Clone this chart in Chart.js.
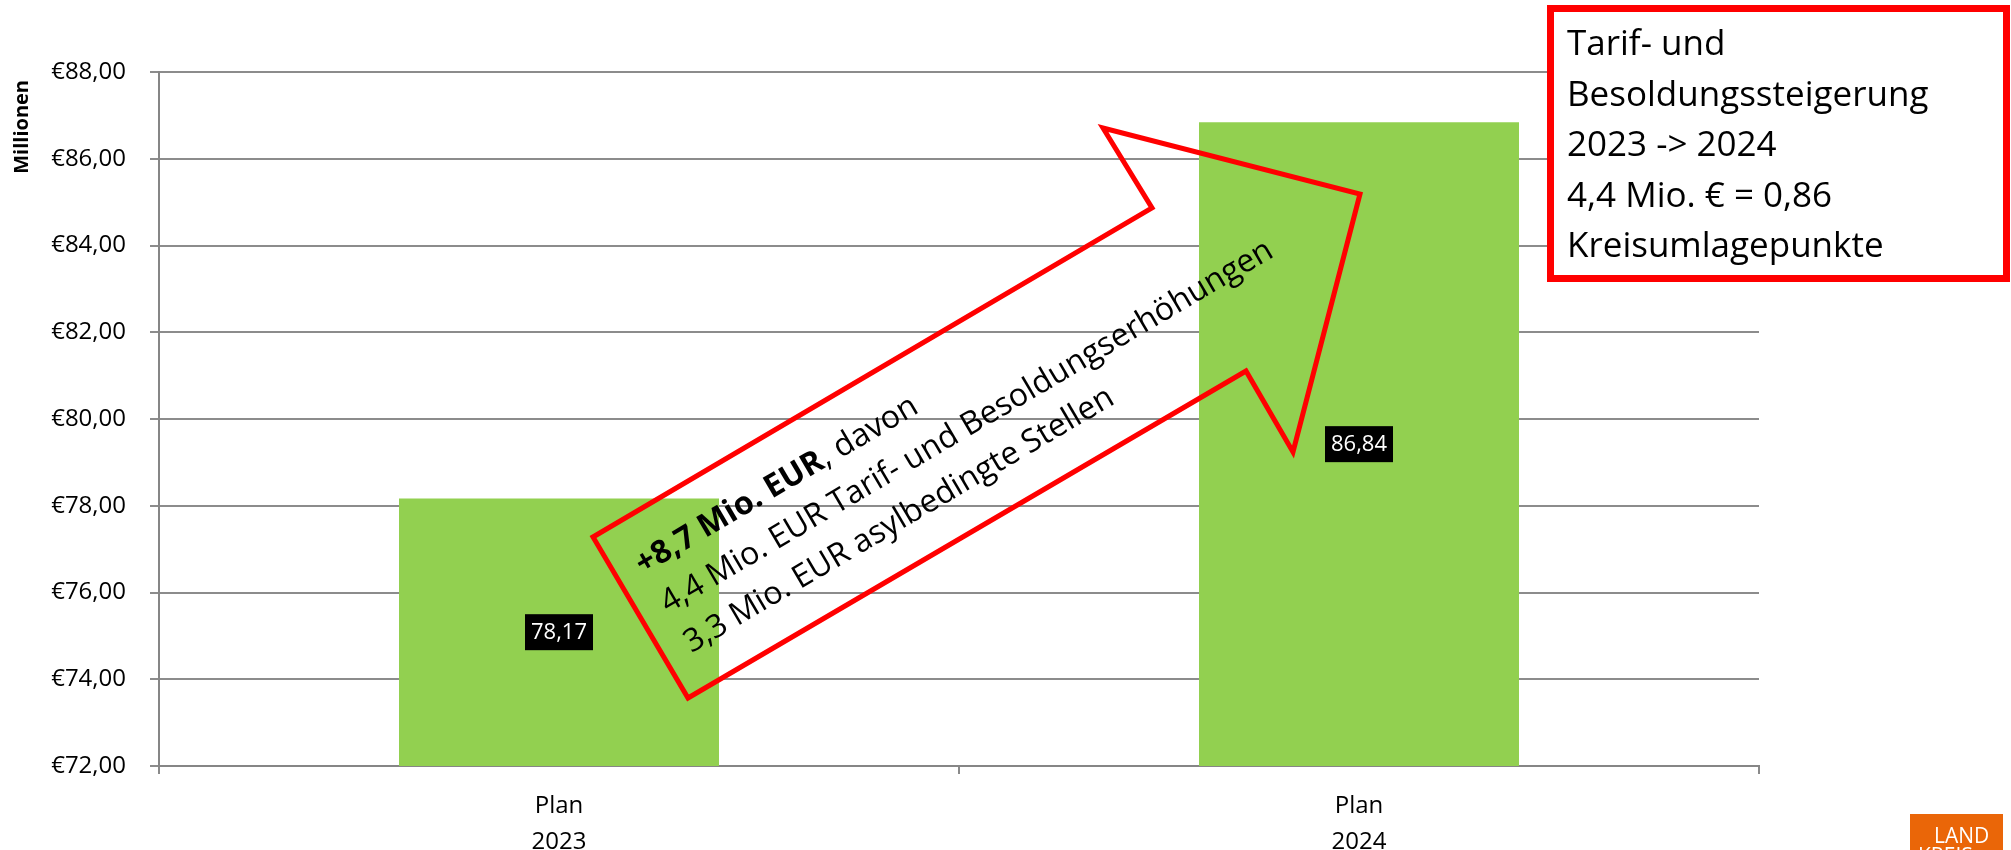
<!DOCTYPE html>
<html>
<head>
<meta charset="utf-8">
<style>
  html, body { margin: 0; padding: 0; background: #fff; }
  #chart { display: block; }
</style>
<script src="https://cdn.jsdelivr.net/npm/chart.js@4/dist/chart.umd.min.js"></script>
</head>
<body>
<canvas id="chart" width="2011" height="850"></canvas>
<script>
// Daten
const categories = [['Plan', '2023'], ['Plan', '2024']];
const values = [78.17, 86.84];
const yMin = 72;
const yMax = 88;
const yStep = 2;

// Beschriftungen
const axisTitle = 'Millionen';
const arrowBold = '+8,7 Mio. EUR';
const arrowRest = ', davon';
const arrowLines = [
  '4,4 Mio. EUR Tarif- und Besoldungserhöhungen',
  '3,3 Mio. EUR asylbedingte Stellen'
];
const boxLines = [
  'Tarif- und',
  'Besoldungssteigerung',
  '2023 -> 2024',
  '4,4 Mio. € = 0,86',
  'Kreisumlagepunkte'
];

const FONT = '"Open Sans", "Noto Sans", sans-serif';
const fmt = v => v.toFixed(2).replace('.', ',');

// Werte als schwarze Kästchen in der Mitte der Balken
function drawValueBoxes(chart, ctx) {
  const xs = chart.scales.x;
  const ys = chart.scales.y;
  ctx.save();
  ctx.font = '22px ' + FONT;
  ctx.textAlign = 'center';
  ctx.textBaseline = 'middle';
  values.forEach((v, i) => {
    const cx = xs.getPixelForValue(i);
    const cy = (ys.getPixelForValue(v) + ys.getPixelForValue(yMin)) / 2;
    ctx.fillStyle = '#000';
    ctx.fillRect(cx - 34, cy - 18, 68, 36);
    ctx.fillStyle = '#fff';
    ctx.fillText(fmt(v), cx, cy + 1);
  });
  ctx.restore();
}

// Pfeil, Kasten rechts oben, Achsentitel, Logo
const overlay = {
  id: 'overlay',
  afterDraw(chart) {
    const ctx = chart.ctx;
    drawValueBoxes(chart, ctx);
    ctx.save();

    // Achsentitel senkrecht
    ctx.save();
    ctx.translate(22, 80);
    ctx.rotate(-Math.PI / 2);
    ctx.font = 'bold 20px ' + FONT;
    ctx.fillStyle = '#000';
    ctx.textAlign = 'right';
    ctx.textBaseline = 'middle';
    ctx.fillText(axisTitle, 0, 0);
    ctx.restore();

    // Pfeil (nur Umriss)
    const pts = [[593, 537], [1152, 208], [1103, 128], [1360, 194],
                 [1293, 452], [1246, 371], [688, 698]];
    ctx.beginPath();
    pts.forEach((p, i) => i ? ctx.lineTo(p[0], p[1]) : ctx.moveTo(p[0], p[1]));
    ctx.closePath();
    ctx.lineWidth = 5;
    ctx.lineJoin = 'miter';
    ctx.strokeStyle = '#ff0000';
    ctx.stroke();

    // Text im Pfeil
    ctx.save();
    ctx.translate(643, 575);
    ctx.rotate(-30.5 * Math.PI / 180);
    ctx.fillStyle = '#000';
    ctx.textAlign = 'left';
    ctx.textBaseline = 'alphabetic';
    ctx.font = 'bold 32px ' + FONT;
    ctx.fillText(arrowBold, 0, 0);
    const w = ctx.measureText(arrowBold).width;
    ctx.font = '32px ' + FONT;
    ctx.fillText(arrowRest, w, 0);
    arrowLines.forEach((t, i) => ctx.fillText(t, 2, 46 * (i + 1)));
    ctx.restore();

    // Kasten rechts oben
    ctx.fillStyle = '#fff';
    ctx.fillRect(1547, 5, 463, 277);
    ctx.lineWidth = 7;
    ctx.strokeStyle = '#ff0000';
    ctx.strokeRect(1550.5, 8.5, 456, 270);
    ctx.fillStyle = '#000';
    ctx.font = '35px ' + FONT;
    boxLines.forEach((t, i) => ctx.fillText(t, 1567, 55 + 50.5 * i));

    // Logo unten rechts
    ctx.fillStyle = '#ea6608';
    ctx.fillRect(1910, 814, 93, 36);
    ctx.fillStyle = '#fff';
    ctx.font = '21px ' + FONT;
    ctx.fillText('LAND', 1934, 843);
    ctx.fillText('KREIS', 1918, 863);

    ctx.restore();
  }
};

function draw() {
  new Chart(document.getElementById('chart'), {
    type: 'bar',
    data: {
      labels: categories,
      datasets: [{
        data: values,
        backgroundColor: '#92d050',
        borderWidth: 0,
        barPercentage: 0.4,
        categoryPercentage: 1.0
      }]
    },
    options: {
      responsive: false,
      animation: false,
      layout: { padding: { left: 0, top: 72, right: 252, bottom: 0 } },
      plugins: {
        legend: { display: false },
        tooltip: { enabled: false }
      },
      scales: {
        x: {
          grid: {
            display: true, drawOnChartArea: false, drawTicks: true,
            offset: true, tickLength: 8, color: '#8a8a8a', lineWidth: 2
          },
          border: { display: true, color: '#868686', width: 2 },
          ticks: {
            color: '#000', padding: 14, maxRotation: 0,
            font: { family: FONT, size: 24, lineHeight: 1.5 }
          },
          afterFit: s => { s.height = 84; }
        },
        y: {
          min: yMin,
          max: yMax,
          ticks: {
            stepSize: yStep,
            color: '#000',
            padding: 24,
            font: { family: FONT, size: 24 },
            callback: v => '€' + fmt(v)
          },
          grid: { color: '#8c8c8c', lineWidth: 2, tickLength: 9 },
          border: { display: true, color: '#868686', width: 2 },
          afterFit: s => { s.width = 159; }
        }
      }
    },
    plugins: [overlay]
  });
}

Promise.all([
  document.fonts.load('24px "Open Sans"'),
  document.fonts.load('bold 24px "Open Sans"')
]).then(draw, draw);
</script>
</body>
</html>
